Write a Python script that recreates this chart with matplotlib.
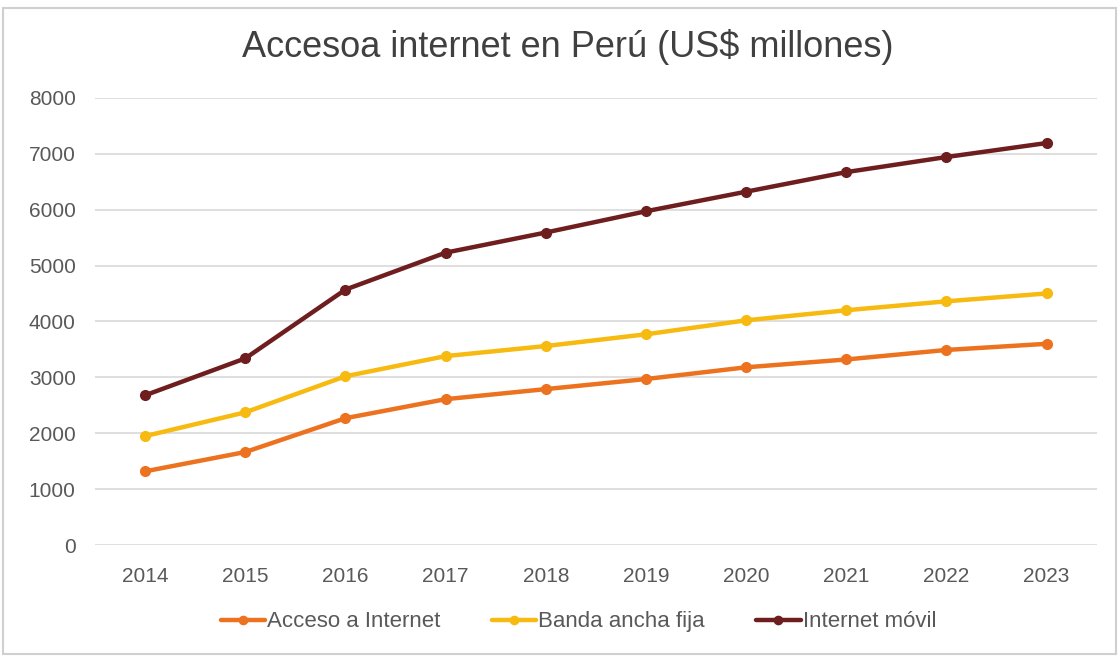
import matplotlib.pyplot as plt
from matplotlib.patches import Rectangle

plt.rcParams['font.family'] = ['Liberation Sans', 'DejaVu Sans']

# Datos (US$ millones)
years = ['2014', '2015', '2016', '2017', '2018', '2019', '2020', '2021', '2022', '2023']
acceso_internet = [1320, 1665, 2270, 2610, 2790, 2970, 3180, 3320, 3490, 3600]
banda_ancha_fija = [1950, 2375, 3020, 3380, 3560, 3770, 4020, 4200, 4360, 4500]
internet_movil = [2680, 3340, 4570, 5230, 5590, 5970, 6320, 6670, 6940, 7190]

series = [
    ('Acceso a Internet', acceso_internet, '#EC7220'),
    ('Banda ancha fija', banda_ancha_fija, '#F7BA10'),
    ('Internet móvil', internet_movil, '#6E1E1E'),
]

fig = plt.figure(figsize=(11.19, 6.56), dpi=100)
ax = fig.add_axes([0.085, 0.169, 0.895, 0.682])

x = list(range(len(years)))
for label, vals, color in series:
    ax.plot(x, vals, color=color, lw=3.2, marker='o', markersize=7,
            label=label, solid_capstyle='round')

ax.set_xlim(-0.5, len(years) - 0.5)
ax.set_ylim(0, 8000)
ax.set_yticks(range(0, 8001, 1000))
ax.set_xticks(x)
ax.set_xticklabels(years)
ax.grid(axis='y', color='#D9D9D9', lw=1.2)
ax.set_axisbelow(True)
for s in ax.spines.values():
    s.set_visible(False)
ax.tick_params(length=0, labelsize=15, colors='#595959', pad=14)
ax.tick_params(axis='x', pad=16)

fig.text(0.507, 0.928, 'Accesoa internet en Perú (US$ millones)', ha='center', va='center',
         fontsize=26, color='#404040')

fig.legend(loc='center', bbox_to_anchor=(0.517, 0.052), ncol=3,
           frameon=False, fontsize=16, labelcolor='#595959', markerscale=0.85,
           handlelength=2.0, handletextpad=0.1, columnspacing=2.3)

# marco exterior del gráfico
fig.patches.append(Rectangle((0.003, 0.003), 0.994, 0.985, transform=fig.transFigure,
                             fill=False, edgecolor='#D0D0D0', lw=1.5))

fig.savefig('out.png', dpi=100)
